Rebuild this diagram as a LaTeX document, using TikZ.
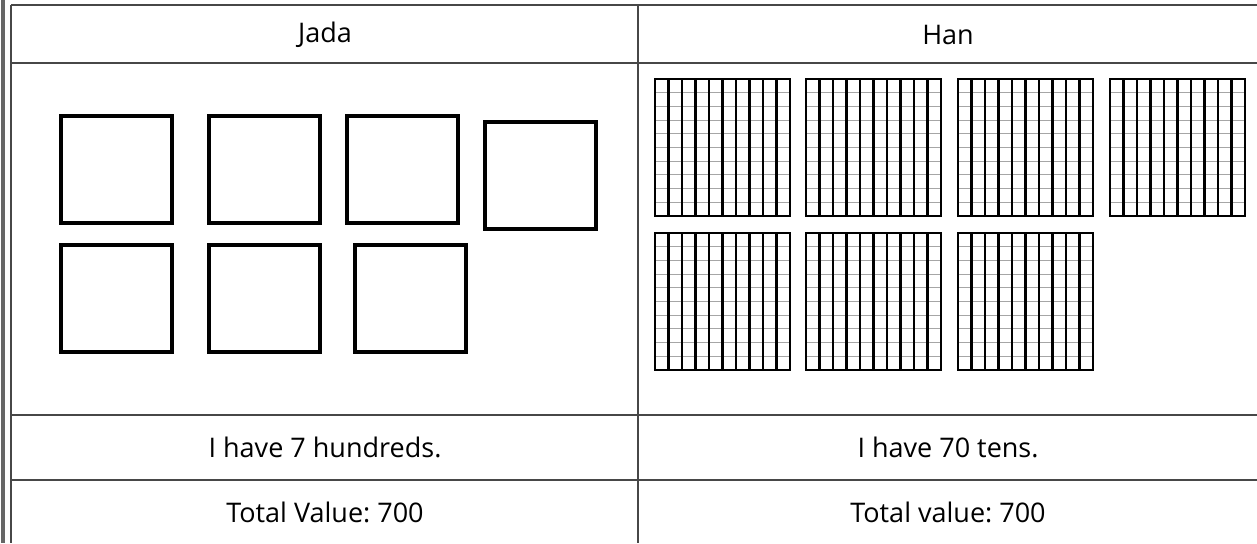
\documentclass[tikz,border=0pt]{standalone}
\usepackage{fontspec}
\setmainfont{Open Sans}
\frenchspacing
\begin{document}
\begin{tikzpicture}[x=1pt,y=-1pt,
  rule/.style={draw=black!72, line width=2.4pt},
  outerrule/.style={draw=black!60, line width=3.8pt},
  hund/.style={draw=black, line width=3.6pt, rectangle, inner sep=0pt, outer sep=0pt,
    minimum width=111pt, minimum height=107pt, anchor=north west},
  tenblock/.style={draw=black, line width=2.2pt, rectangle, inner sep=0pt, outer sep=0pt,
    minimum width=135pt, minimum height=137pt, anchor=north west},
  thin/.style={draw=black!35, line width=1pt},
  rod/.style={draw=black, line width=2.5pt},
  lbl/.style={font=\fontsize{27}{31}\selectfont\frenchspacing, text=black, inner sep=0pt}]
\useasboundingbox (0,0) rectangle (1257,543);
% table rules
\draw[outerrule] (3,0) -- (3,543);
\draw[rule] (11,5) -- (11,543);
\draw[rule] (11,5) -- (1260,5);
\draw[rule] (11,63) -- (1260,63);
\draw[rule] (11,415) -- (1260,415);
\draw[rule] (11,480) -- (1260,480);
\draw[rule] (638,5) -- (638,543);
% headers and texts
\node[lbl] (jada) at (325,35) {Jada};
\node[lbl] (han) at (948,35) {Han};
\node[lbl] (jtxt) at (325,447) {I have 7 hundreds.};
\node[lbl] (htxt) at (948,447) {I have 70 tens.};
\node[lbl] (jval) at (325,512) {Total Value: 700};
\node[lbl] (hval) at (948,512) {Total value: 700};
% hundreds squares
\node[hund] (h1) at (61,116) {};
\node[hund] (h2) at (209,116) {};
\node[hund] (h3) at (347,116) {};
\node[hund] (h4) at (485,122) {};
\node[hund] (h5) at (61,245) {};
\node[hund] (h6) at (209,245) {};
\node[hund] (h7) at (355,245) {};
% tens blocks (hundred-flats made of ten rods)
\foreach \n/\x/\y in {1/655/79, 2/806/79, 3/958/79, 4/1110/79, 5/655/233, 6/806/233, 7/958/233}{
  \foreach \i in {1,...,9}{
    \draw[thin] (\x,\y+13.7*\i) -- (\x+135,\y+13.7*\i);
  }
  \foreach \i in {1,...,9}{
    \draw[rod] (\x+13.5*\i,\y) -- (\x+13.5*\i,\y+137);
  }
  \node[tenblock] (t\n) at (\x,\y) {};
}
\end{tikzpicture}
\end{document}
